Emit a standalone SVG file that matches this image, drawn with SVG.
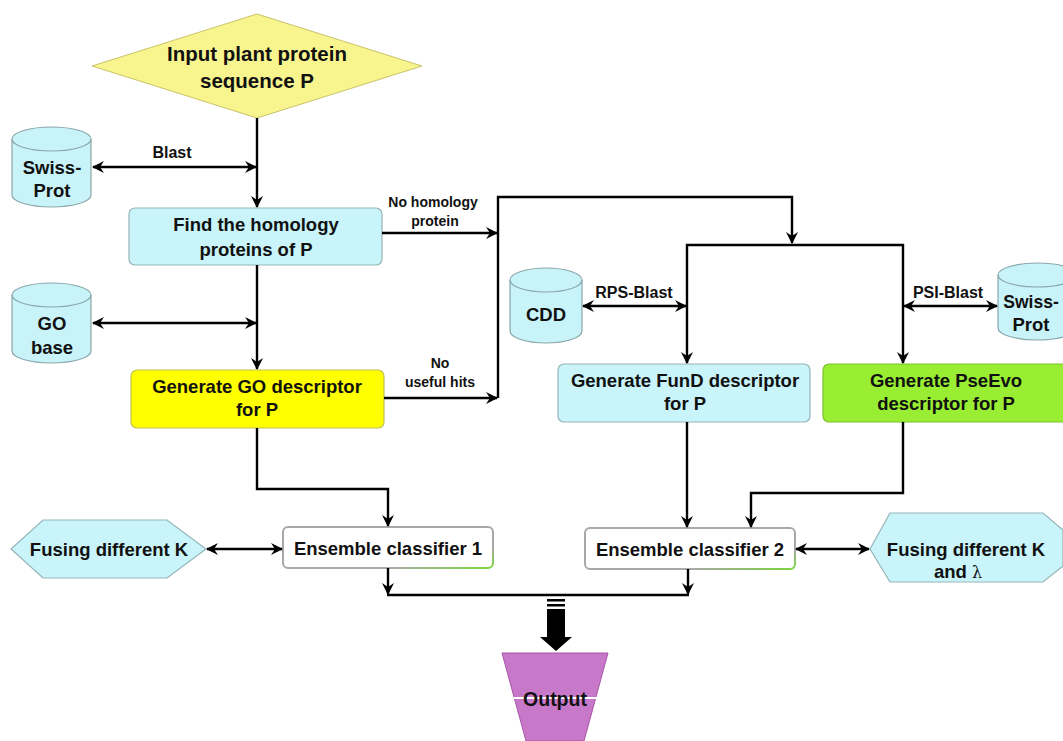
<svg xmlns="http://www.w3.org/2000/svg" width="1063" height="741" viewBox="0 0 1063 741">
<defs>
<marker id="ah" viewBox="0 0 12 12" refX="11" refY="6" markerWidth="12" markerHeight="12" markerUnits="userSpaceOnUse" orient="auto-start-reverse">
<path d="M0,0 L12,6 L0,12 L4,6 z" fill="#000"/>
</marker>
<linearGradient id="eg" x1="0" y1="0" x2="1" y2="1">
<stop offset="0.75" stop-color="#a8a8a8"/>
<stop offset="1" stop-color="#7bd63a"/>
</linearGradient>
</defs>
<style>
text{font-family:"Liberation Sans",Arial,sans-serif;font-weight:bold;fill:#111;text-anchor:middle}
.t{font-size:18.5px}
.d{font-size:20.5px}
.s{font-size:18.5px}
.b{font-size:16px}
.l{font-size:14px}
.cyl{fill:#c8f3f8;stroke:#8aa7ab;stroke-width:1.2}
.cyan{fill:#c8f4fa;stroke:#96b4b8;stroke-width:1.2}
.c{fill:none;stroke:#000;stroke-width:2.4}
.ens{fill:#fff;stroke:url(#eg);stroke-width:2}
</style>
<rect width="1063" height="741" fill="#fff"/>

<g id="input">
<polygon points="257,14 422,66 257,118 92,66" fill="#f8f48e" stroke="#c9c36a" stroke-width="1"/>
<text class="d" x="257" y="61">Input plant protein</text>
<text class="d" x="257" y="88">sequence P</text>
</g>

<g id="swissprot1">
<path class="cyl" d="M12,139 A39.5,12 0 0 1 91,139 L91,195 A39.5,12 0 0 1 12,195 Z"/>
<path d="M12,139 A39.5,12 0 0 0 91,139" fill="none" stroke="#8aa7ab" stroke-width="1.2"/>
<text class="s" x="52" y="174">Swiss-</text>
<text class="s" x="52" y="197">Prot</text>
</g>

<g id="find">
<rect class="cyan" x="129" y="208" width="253" height="57" rx="6"/>
<text class="t" x="256" y="231">Find the homology</text>
<text class="t" x="256" y="256">proteins of  P</text>
</g>

<g id="gobase">
<path class="cyl" d="M12,295 A39.5,12 0 0 1 91,295 L91,351 A39.5,12 0 0 1 12,351 Z"/>
<path d="M12,295 A39.5,12 0 0 0 91,295" fill="none" stroke="#8aa7ab" stroke-width="1.2"/>
<text class="s" x="52" y="330">GO</text>
<text class="s" x="52" y="354">base</text>
</g>

<g id="godesc">
<rect x="131" y="370" width="253" height="58" rx="6" fill="#ffff00" stroke="#c4c050" stroke-width="1.2"/>
<text class="t" x="257" y="393">Generate GO descriptor</text>
<text class="t" x="257" y="416">for P</text>
</g>

<g id="cdd">
<path class="cyl" d="M510,280 A36,12 0 0 1 582,280 L582,331 A36,12 0 0 1 510,331 Z"/>
<path d="M510,280 A36,12 0 0 0 582,280" fill="none" stroke="#8aa7ab" stroke-width="1.2"/>
<text class="t" x="546" y="321">CDD</text>
</g>

<g id="swissprot2">
<path class="cyl" d="M998,275 A39.5,12 0 0 1 1077,275 L1077,328 A39.5,12 0 0 1 998,328 Z"/>
<path d="M998,275 A39.5,12 0 0 0 1077,275" fill="none" stroke="#8aa7ab" stroke-width="1.2"/>
<text class="s" x="1031" y="308" style="font-size:17.5px">Swiss-</text>
<text class="s" x="1031" y="331">Prot</text>
</g>

<g id="fund">
<rect class="cyan" x="558" y="364" width="252" height="58" rx="6"/>
<text class="t" x="685" y="387">Generate FunD descriptor</text>
<text class="t" x="685" y="410">for P</text>
</g>

<g id="pseevo">
<rect x="823" y="364" width="250" height="58" rx="6" fill="#99ee33" stroke="#7cc22a" stroke-width="1.2"/>
<text class="t" x="946" y="387">Generate PseEvo</text>
<text class="t" x="946" y="410">descriptor for P</text>
</g>

<g id="ens1">
<rect class="ens" x="283" y="527" width="210" height="41" rx="5"/>
<text class="t" x="388" y="555">Ensemble classifier 1</text>
</g>

<g id="ens2">
<rect class="ens" x="585" y="528" width="210" height="41" rx="5"/>
<text class="t" x="690" y="556">Ensemble classifier 2</text>
</g>

<g id="fuse1">
<polygon points="43,520 167,520 206,549 167,578 43,578 11,549" fill="#c8f4fa" stroke="#96b4b8" stroke-width="1.2"/>
<text class="t" x="109" y="556">Fusing different K</text>
</g>

<g id="fuse2">
<polygon points="890,513 1043,513 1063,530 1063,566 1043,582 890,582 870,549" fill="#c8f4fa" stroke="#96b4b8" stroke-width="1.2"/>
<text class="t" x="966" y="556">Fusing different K</text>
<text class="t" x="958" y="578">and  <tspan style="font-family:'DejaVu Serif',serif;font-weight:normal;font-size:16px">λ</tspan></text>
</g>

<g id="output">
<polygon points="502,653 608,653 584,741 526,741" fill="#c878c8" stroke="#a855a8" stroke-width="1"/>
<line x1="513" y1="698" x2="597" y2="698" stroke="#fff" stroke-width="2"/>
<text class="t" x="555" y="706" style="font-size:19.5px">Output</text>
</g>

<g id="connectors">
<line class="c" x1="257" y1="118" x2="257" y2="207" marker-end="url(#ah)"/>
<line class="c" x1="93" y1="167" x2="256" y2="167" marker-start="url(#ah)" marker-end="url(#ah)"/>
<line class="c" x1="257" y1="265" x2="257" y2="369" marker-end="url(#ah)"/>
<line class="c" x1="93" y1="323" x2="256" y2="323" marker-start="url(#ah)" marker-end="url(#ah)"/>
<line class="c" x1="382" y1="233" x2="497" y2="233" marker-end="url(#ah)"/>
<line class="c" x1="384" y1="398" x2="497" y2="398" marker-end="url(#ah)"/>
<polyline class="c" points="498,398 498,197 792,197 792,243" marker-end="url(#ah)"/>
<polyline class="c" points="687,363 687,245 903,245 903,363" marker-start="url(#ah)" marker-end="url(#ah)"/>
<line class="c" x1="583" y1="306" x2="686" y2="306" marker-start="url(#ah)" marker-end="url(#ah)"/>
<line class="c" x1="904" y1="306" x2="997" y2="306" marker-start="url(#ah)" marker-end="url(#ah)"/>
<polyline class="c" points="257,428 257,489 388,489 388,526" marker-end="url(#ah)"/>
<line class="c" x1="687" y1="422" x2="687" y2="527" marker-end="url(#ah)"/>
<polyline class="c" points="903,422 903,493 751,493 751,527" marker-end="url(#ah)"/>
<line class="c" x1="207" y1="549" x2="282" y2="549" marker-start="url(#ah)" marker-end="url(#ah)"/>
<line class="c" x1="796" y1="549" x2="869" y2="549" marker-start="url(#ah)" marker-end="url(#ah)"/>
<line class="c" x1="388" y1="568" x2="388" y2="594" marker-end="url(#ah)"/>
<line class="c" x1="688" y1="569" x2="688" y2="594" marker-end="url(#ah)"/>
<line class="c" x1="387" y1="595" x2="689" y2="595"/>
<rect x="547" y="599" width="18" height="2.5" fill="#000"/>
<rect x="547" y="604" width="18" height="2.5" fill="#000"/>
<path d="M547,609 L565,609 L565,637 L572,637 L556,651 L540,637 L547,637 Z" fill="#000"/>
</g>

<g id="labels">
<text class="b" x="172" y="158">Blast</text>
<text class="l" x="433" y="207">No homology</text>
<text class="l" x="435" y="226">protein</text>
<text class="l" x="440" y="368">No</text>
<text class="l" x="440" y="387">useful hits</text>
<text class="b" x="634" y="298">RPS-Blast</text>
<text class="b" x="948" y="298">PSI-Blast</text>
</g>
</svg>
